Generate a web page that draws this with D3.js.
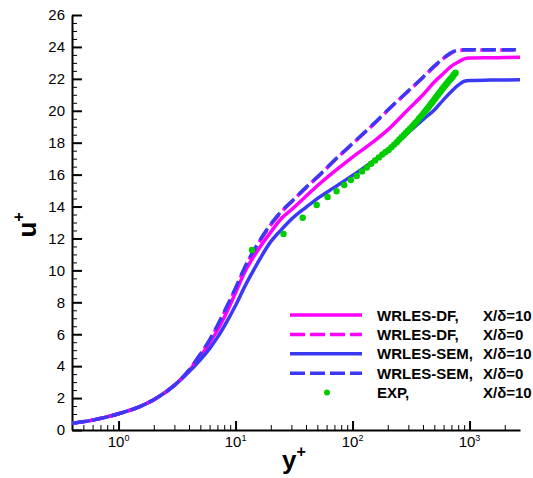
<!DOCTYPE html>
<html>
<head>
<meta charset="utf-8">
<script src="https://cdn.jsdelivr.net/npm/d3@7"></script>
<style>
  body { margin: 0; background: #fff; }
  text { font-family: "Liberation Sans", Arial, Helvetica, sans-serif; fill: #000; }
</style>
</head>
<body>
<div id="chart-area"></div>
<script>
// y+ stations shared by the four LES profiles
var yPlus = [0.4, 0.6, 0.8, 1, 1.5, 2, 3, 4, 5, 6, 7, 8, 10, 12, 15, 20, 25, 30, 40, 50, 70,
    100, 150, 200, 300, 400, 500, 600, 700, 800, 900, 1000, 1500, 2000, 2700];

var dfX10 = [0.42, 0.62, 0.82, 1.02, 1.45, 1.9, 2.8, 3.7, 4.6, 5.45, 6.25, 7.05, 8.6, 9.9, 11.1,
    12.4, 13.3, 13.8, 14.65, 15.3, 16.2, 17.1, 18.05, 18.8, 20.1, 21.0, 21.8, 22.35, 22.8, 23.05,
    23.25, 23.3, 23.32, 23.33, 23.35];
var dfX0 = [0.42, 0.62, 0.82, 1.02, 1.45, 1.9, 2.8, 3.75, 4.75, 5.6, 6.5, 7.35, 8.85, 10.15, 11.45,
    12.85, 13.7, 14.28, 15.18, 15.83, 16.88, 17.93, 19.13, 20.03, 21.23, 22.08, 22.78, 23.28, 23.63,
    23.78, 23.8, 23.8, 23.8, 23.8, 23.8];
var semX10 = [0.42, 0.62, 0.82, 1.02, 1.45, 1.9, 2.8, 3.65, 4.4, 5.1, 5.8, 6.5, 7.8, 9.0, 10.3,
    11.8, 12.6, 13.2, 13.95, 14.5, 15.2, 15.95, 16.85, 17.55, 18.65, 19.45, 20.05, 20.7, 21.2, 21.6,
    21.85, 21.9, 21.92, 21.93, 21.95];
var semX0 = [0.42, 0.62, 0.82, 1.02, 1.45, 1.9, 2.8, 3.75, 4.75, 5.65, 6.55, 7.4, 8.9, 10.2, 11.5,
    12.9, 13.75, 14.3, 15.2, 15.85, 16.9, 17.95, 19.15, 20.05, 21.25, 22.1, 22.8, 23.3, 23.65, 23.8,
    23.82, 23.82, 23.82, 23.82, 23.82];

// experiment, X/delta = 10
var expYPlus = [13.8, 25.7, 37.5, 49.4, 61.2, 73.1, 84.9, 96.8, 108.6, 120.5, 132.3, 144.2, 156,
    167.9, 179.7, 191.6, 203.4, 215.3, 227.1, 239, 250.8, 262.7, 274.5, 286.4, 298.2, 310.1, 321.9,
    333.8, 345.6, 357.5, 369.3, 381.2, 393, 404.9, 416.7, 428.6, 440.4, 452.3, 464.1, 476, 487.8,
    499.7, 511.5, 523.4, 535.2, 547.1, 558.9, 570.8, 582.6, 594.5, 606.3, 618.2, 630, 641.9, 653.7,
    665.6, 677.4, 689.3, 701.1, 713, 724.8, 736.7, 748.5, 760];
var expU = [11.28, 12.28, 13.3, 14.1, 14.6, 14.96, 15.35, 15.66, 15.92, 16.2, 16.45, 16.68, 16.88,
    17.08, 17.26, 17.42, 17.55, 17.72, 17.88, 18.03, 18.2, 18.34, 18.48, 18.62, 18.75, 18.88, 19.0,
    19.12, 19.25, 19.37, 19.5, 19.62, 19.73, 19.84, 19.95, 20.06, 20.17, 20.28, 20.39, 20.5, 20.6,
    20.7, 20.8, 20.9, 20.99, 21.08, 21.17, 21.26, 21.35, 21.43, 21.51, 21.59, 21.66, 21.73, 21.8,
    21.87, 21.94, 22.0, 22.06, 22.13, 22.2, 22.27, 22.33, 22.38];

var yTicks = [0, 2, 4, 6, 8, 10, 12, 14, 16, 18, 20, 22, 24, 26];
var xTicks = [1, 10, 100, 1000];
var xTickExp = ["0", "1", "2", "3"];

var seriesNames = ["WRLES-DF,", "WRLES-DF,", "WRLES-SEM,", "WRLES-SEM,", "EXP,"];
var seriesCases = ["X/\u03b4=10", "X/\u03b4=0", "X/\u03b4=10", "X/\u03b4=0", "X/\u03b4=10"];

var magenta = "#ff00ff", blue = "#3a3af6", green = "#00cc00";

var W = 533, H = 478;
var margin = { left: 72, right: 13, top: 15, bottom: 48 };

var svg = d3.select("#chart-area")
    .append("svg")
        .attr("width", W)
        .attr("height", H);

var x = d3.scaleLog()
    .domain([0.4, 2700])
    .range([margin.left, W - margin.right]);

var y = d3.scaleLinear()
    .domain([0, 26])
    .range([H - margin.bottom, margin.top]);

// minor ticks
var xMinor = [];
[0.1, 1, 10, 100, 1000].forEach(function(dec){
    for (var k = 2; k <= 9; ++k){
        var v = dec * k;
        if (v >= 0.4 && v <= 2700 && xTicks.indexOf(v) < 0) xMinor.push(v);
    }
});
var yMinor = [];
for (var i = 0; i < 26; i += 2) yMinor.push(i + 0.5, i + 1, i + 1.5);

svg.append("g")
    .attr("transform", "translate(0," + y(0) + ")")
    .call(d3.axisBottom(x).tickValues(xMinor).tickSize(-5).tickSizeOuter(0).tickFormat(""))
    .call(function(g){ g.select(".domain").remove(); g.selectAll("line").attr("stroke-width", 1); });

svg.append("g")
    .attr("transform", "translate(" + margin.left + ",0)")
    .call(d3.axisLeft(y).tickValues(yMinor).tickSize(-5).tickSizeOuter(0).tickFormat(""))
    .call(function(g){ g.select(".domain").remove(); g.selectAll("line").attr("stroke-width", 1); });

var xAxis = svg.append("g")
    .attr("transform", "translate(0," + y(0) + ")")
    .call(d3.axisBottom(x).tickValues(xTicks).tickSize(-9).tickSizeOuter(0).tickFormat(""));
xAxis.select(".domain").attr("stroke-width", 2);
xAxis.selectAll("line").attr("stroke-width", 2);

var yAxis = svg.append("g")
    .attr("transform", "translate(" + margin.left + ",0)")
    .call(d3.axisLeft(y).tickValues(yTicks).tickSize(-10).tickSizeOuter(0).tickPadding(7));
yAxis.select(".domain").attr("stroke-width", 2);
yAxis.selectAll("line").attr("stroke-width", 2);
yAxis.selectAll("text").attr("font-size", "15px").style("font-family", null);

// 10^n labels
var xl = svg.append("g").selectAll("text")
    .data(xTicks)
    .enter()
    .append("text")
        .attr("x", function(d){ return x(d); })
        .attr("y", y(0) + 17)
        .attr("text-anchor", "middle")
        .attr("font-size", "15px");
xl.append("tspan").text("10");
xl.append("tspan")
    .attr("font-size", "9px")
    .attr("dy", -6)
    .text(function(d, i){ return xTickExp[i]; });

// axis titles
var yt = svg.append("text")
    .attr("transform", "translate(36," + 225 + ") rotate(-90)")
    .attr("text-anchor", "middle")
    .attr("font-size", "26px")
    .attr("font-weight", "bold");
yt.append("tspan").text("u");
yt.append("tspan").attr("font-size", "16px").attr("dy", -12).text("+");

var xt = svg.append("text")
    .attr("x", 294)
    .attr("y", 469)
    .attr("text-anchor", "middle")
    .attr("font-size", "26px")
    .attr("font-weight", "bold");
xt.append("tspan").text("y");
xt.append("tspan").attr("font-size", "16px").attr("dy", -12).text("+");

// profiles
function profile(vals){
    return d3.line()
        .x(function(d, i){ return x(yPlus[i]); })
        .y(function(d){ return y(d); })
        .curve(d3.curveMonotoneX)(vals);
}

var curves = [
    { vals: dfX10, color: magenta, dash: null, off: 0 },
    { vals: semX10, color: blue, dash: null, off: 0 },
    { vals: dfX0, color: magenta, dash: "14,6", off: 2 },
    { vals: semX0, color: blue, dash: "14,6", off: 0 }
];

curves.forEach(function(c){
    svg.append("path")
        .attr("d", profile(c.vals))
        .attr("fill", "none")
        .attr("stroke", c.color)
        .attr("stroke-width", 3.5)
        .attr("stroke-dasharray", c.dash)
        .attr("stroke-dashoffset", c.off);
});

svg.append("g").selectAll("circle")
    .data(expU)
    .enter()
    .append("circle")
        .attr("cx", function(d, i){ return x(expYPlus[i]); })
        .attr("cy", function(d){ return y(d); })
        .attr("r", 3.2)
        .attr("fill", green);

// legend
var legColors = [magenta, magenta, blue, blue, green];
var legDash = [null, "15,5", null, "15,5", null];
var lg = svg.append("g").attr("class", "legend");
legColors.forEach(function(c, i){
    var ly = 315 + i * 19.4;
    if (i < 4){
        lg.append("line")
            .attr("x1", 290).attr("x2", 362)
            .attr("y1", ly).attr("y2", ly)
            .attr("stroke", c)
            .attr("stroke-width", 3.5)
            .attr("stroke-dasharray", legDash[i]);
    } else {
        lg.append("circle")
            .attr("cx", 327).attr("cy", ly)
            .attr("r", 3)
            .attr("fill", c);
    }
    lg.append("text")
        .attr("x", 377).attr("y", ly + 5.5)
        .attr("font-size", "15px")
        .attr("font-weight", "bold")
        .text(seriesNames[i]);
    lg.append("text")
        .attr("x", 483).attr("y", ly + 5.5)
        .attr("font-size", "15px")
        .attr("font-weight", "bold")
        .text(seriesCases[i]);
});
</script>
</body>
</html>
